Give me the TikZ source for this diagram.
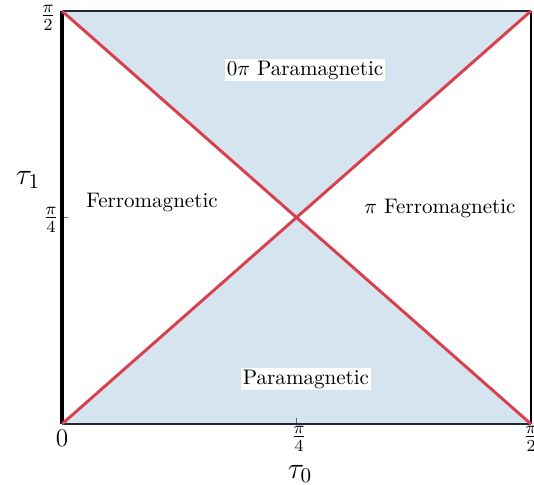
\documentclass[tikz,border=0pt]{standalone}
\usepackage{amsmath}
\usepackage{tikz}
\usepackage{xcolor}
\usetikzlibrary{calc}
\definecolor{Shade}{HTML}{D6E4F0}
\definecolor{Cross}{HTML}{D9404E}
\definecolor{Frame}{HTML}{1E2836}
\tikzset{
  region/.style={fill=white,inner sep=1pt,font=\normalsize,text=black},
  ticklab/.style={inner sep=0pt,font=\large},
  axislab/.style={inner sep=0pt,font=\Large},
  crossline/.style={draw=Cross,line width=1.4pt},
  tick/.style={draw=black!60,line width=0.3pt}
}

\begin{document}
\begin{tikzpicture}[x=0.475pt,y=-0.475pt]
        \useasboundingbox (0,0) rectangle (534,485);
        % corners and centre of the square
        \coordinate (bl) at (62,424);
        \coordinate (br) at (531,424);
        \coordinate (tl) at (62,11);
        \coordinate (tr) at (531,11);
        \coordinate (mid) at (296.5,217.5);
        % shaded wedges
        \fill[Shade] (tl) -- (tr) -- (mid) -- cycle;
        \fill[Shade] (bl) -- (br) -- (mid) -- cycle;
        % ticks
        \draw[tick] (mid |- bl) -- ++(0,-6);
        \draw[tick] (bl |- mid) -- ++(6,0);
        % frame
        \draw[Frame,line width=1.4pt] (tl) -- (tr);
        \draw[Frame,line width=1.4pt] (bl) -- (br);
        \draw[black,line width=1.9pt] (bl) -- (tl);
        \draw[black,line width=0.9pt] (br) -- (tr);
        % phase boundaries
        \draw[crossline] (bl) -- (tr);
        \draw[crossline] (tl) -- (br);
        % phase names
        \node[region] (para0pi) at (305,70) {$0\pi$ Paramagnetic};
        \node[region] (ferro) at (152,203) {Ferromagnetic};
        \node[region] (ferropi) at (440,209) {$\pi$ Ferromagnetic};
        \node[region] (para) at (306,379) {Paramagnetic};
        % axis labels
        \node[axislab] (tauone) at (28,180) {$\tau_1$};
        \node[axislab] (tauzero) at (300,474) {$\tau_0$};
        \node[ticklab] (ytop) at (48,18) {$\frac{\pi}{2}$};
        \node[ticklab] (ymid) at (51,220) {$\frac{\pi}{4}$};
        \node[ticklab] (xzero) at (62,438) {$0$};
        \node[ticklab] (xmid) at (299,439) {$\frac{\pi}{4}$};
        \node[ticklab] (xend) at (531,439) {$\frac{\pi}{2}$};
      \end{tikzpicture}
\end{document}
